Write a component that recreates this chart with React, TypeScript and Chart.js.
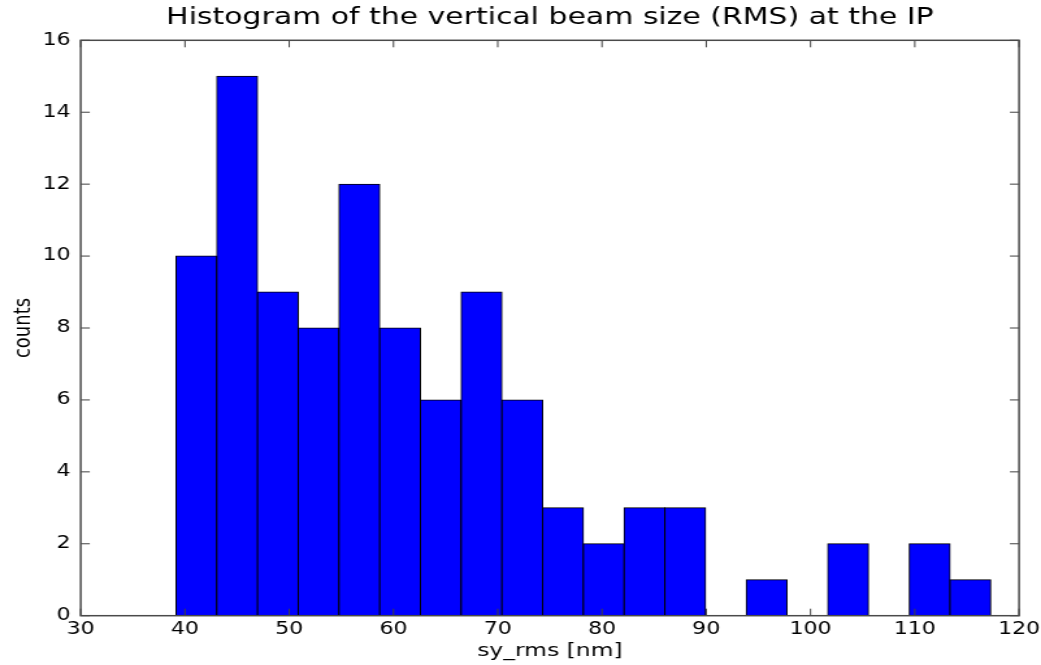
import React, { useEffect, useRef } from "react";
import { Chart, registerables } from "chart.js";

Chart.register(...registerables);

// Histogram bin edges (nm) and the counts falling in each bin
const binEdges = [
  39.14, 43.05, 46.96, 50.86, 54.77, 58.68, 62.58, 66.49, 70.4, 74.31, 78.21,
  82.12, 86.03, 89.93, 93.84, 97.75, 101.65, 105.56, 109.47, 113.38, 117.28,
];
const binCounts = [10, 15, 9, 8, 12, 8, 6, 9, 6, 3, 2, 3, 3, 0, 1, 0, 2, 0, 2, 1];

const xTicks = [30, 40, 50, 60, 70, 80, 90, 100, 110, 120];
const yTicks = [0, 2, 4, 6, 8, 10, 12, 14, 16];

const titleText = "Histogram of the vertical beam size (RMS) at the IP";
const xLabel = "sy_rms [nm]";
const yLabel = "counts";

// The figure is laid out at a narrower width and stretched horizontally
const PAGE_W = 1041;
const PAGE_H = 665;
const BASE_W = 801;
const STRETCH = PAGE_W / BASE_W;

const FONT = "'DejaVu Sans', 'Liberation Sans', sans-serif";
const TICK_LEN = 7;

// Axes box with inward tick marks on all four sides, drawn over the bars
const frameTicks = {
  id: "frameTicks",
  afterDatasetsDraw(chart: any) {
    const { ctx, chartArea, scales } = chart;
    const { left, right, top, bottom } = chartArea;
    const x = scales.x;
    const y = scales.y;
    ctx.save();
    ctx.strokeStyle = "#404040";
    ctx.lineWidth = 1;
    ctx.beginPath();
    for (const t of x.ticks) {
      const p = x.getPixelForValue(t.value);
      ctx.moveTo(p, bottom);
      ctx.lineTo(p, bottom - TICK_LEN);
      ctx.moveTo(p, top);
      ctx.lineTo(p, top + TICK_LEN);
    }
    for (const t of y.ticks) {
      const p = y.getPixelForValue(t.value);
      ctx.moveTo(left, p);
      ctx.lineTo(left + TICK_LEN, p);
      ctx.moveTo(right, p);
      ctx.lineTo(right - TICK_LEN, p);
    }
    ctx.stroke();
    ctx.strokeStyle = "#4a4a4a";
    ctx.lineWidth = 1.5;
    ctx.strokeRect(left, top, right - left, bottom - top);
    ctx.restore();
  },
};

export default function App() {
  const canvasRef = useRef<HTMLCanvasElement | null>(null);

  useEffect(() => {
    if (!canvasRef.current) return;
    const points = binCounts.map((c, i) => ({
      x: (binEdges[i] + binEdges[i + 1]) / 2,
      y: c,
    }));

    const chart = new Chart(canvasRef.current, {
      type: "bar",
      data: {
        datasets: [
          {
            data: points as any,
            backgroundColor: "#0000ff",
            borderColor: "#000000",
            borderWidth: 1,
            borderSkipped: false,
            inflateAmount: 0.5,
            barPercentage: 1,
            categoryPercentage: 1,
          },
        ],
      },
      options: {
        animation: false,
        responsive: true,
        maintainAspectRatio: false,
        layout: { padding: { left: 0, right: 16.9, top: 0, bottom: 0 } },
        plugins: {
          legend: { display: false },
          tooltip: { enabled: false },
          title: {
            display: true,
            text: titleText,
            fullSize: false,
            color: "#000",
            font: { family: FONT, size: 23, weight: "normal" },
            padding: { top: 4.6, bottom: 8.1 },
          },
        },
        scales: {
          x: {
            type: "linear",
            offset: false,
            min: xTicks[0],
            max: xTicks[xTicks.length - 1],
            afterBuildTicks: (s: any) => {
              s.ticks = xTicks.map((v) => ({ value: v }));
            },
            afterFit: (s: any) => {
              s.height = 49.3;
              s.paddingLeft = 0;
              s.paddingRight = 0;
            },
            grid: { display: false, drawTicks: false },
            border: { display: false },
            ticks: {
              color: "#000",
              padding: 3.2,
              maxRotation: 0,
              autoSkip: false,
              font: { family: FONT, size: 17 },
            },
            title: {
              display: true,
              text: xLabel,
              color: "#000",
              font: { family: FONT, size: 18 },
              padding: { top: 0, bottom: 3.2 },
            },
          },
          y: {
            type: "linear",
            min: yTicks[0],
            max: yTicks[yTicks.length - 1],
            afterBuildTicks: (s: any) => {
              s.ticks = yTicks.map((v) => ({ value: v }));
            },
            afterFit: (s: any) => {
              s.width = 62.1;
              s.paddingTop = 0;
              s.paddingBottom = 0;
            },
            grid: { display: false, drawTicks: false },
            border: { display: false },
            ticks: {
              color: "#000",
              padding: 7.7,
              autoSkip: false,
              font: { family: FONT, size: 17 },
            },
            title: {
              display: true,
              text: yLabel,
              color: "#000",
              font: { family: FONT, size: 18 },
              padding: { top: 7.7, bottom: 0 },
            },
          },
        },
      },
      plugins: [frameTicks],
    });

    return () => chart.destroy();
  }, []);

  return (
    <div
      style={{
        position: "absolute",
        left: 0,
        top: 0,
        width: PAGE_W,
        height: PAGE_H,
        overflow: "hidden",
        background: "#fff",
      }}
    >
      <div
        style={{
          width: BASE_W,
          height: PAGE_H,
          transform: `scaleX(${STRETCH})`,
          transformOrigin: "0 0",
        }}
      >
        <canvas ref={canvasRef} />
      </div>
    </div>
  );
}
